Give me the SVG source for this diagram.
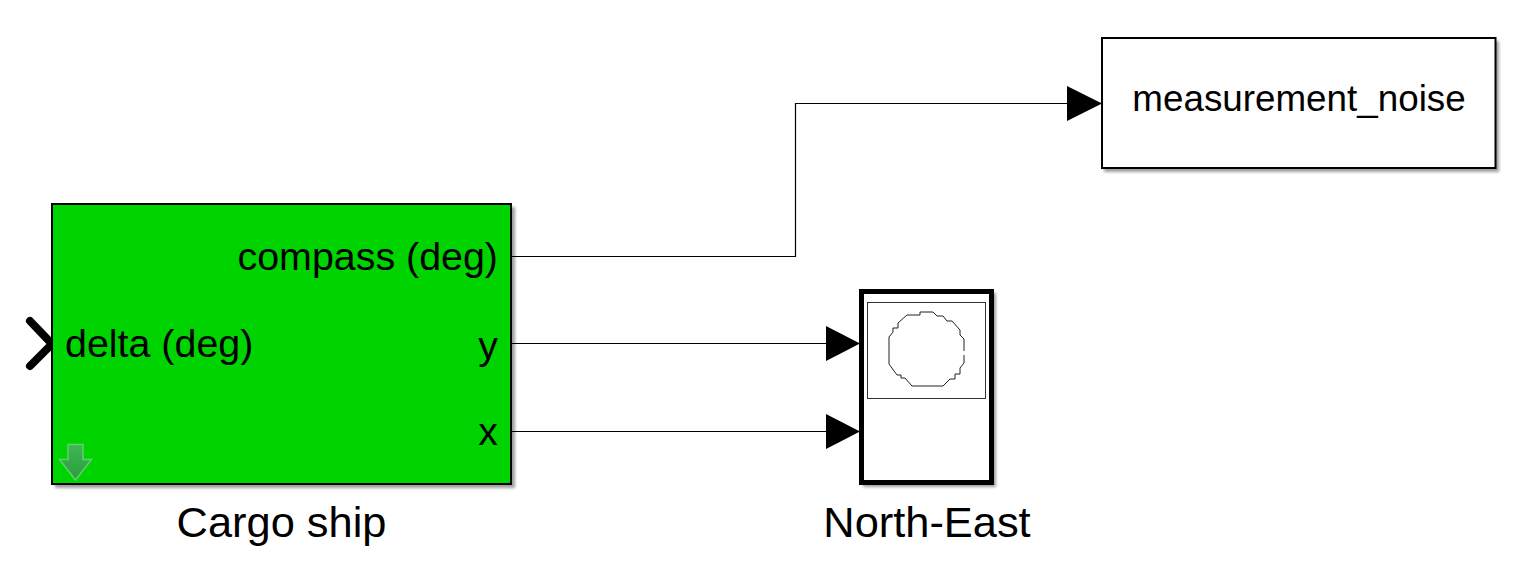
<svg xmlns="http://www.w3.org/2000/svg" width="1520" height="571" viewBox="0 0 1520 571">
<style>
text{font-family:"Liberation Sans",Arial,sans-serif;font-size:39.400px;fill:#000}
.e{text-anchor:end}.m{text-anchor:middle}
.l{font-size:43.400px}
.w{fill:none;stroke:#000;stroke-width:1.2}
.h{fill:#000;stroke:none}
.s{fill:#000;opacity:.38;filter:url(#b)}
</style>
<defs>
<filter id="b" x="-5%" y="-5%" width="110%" height="110%"><feGaussianBlur stdDeviation="1.5"/></filter>
<linearGradient id="g" x1="0" y1="0" x2="0" y2="1"><stop offset="0" stop-color="#3fb653"/><stop offset="1" stop-color="#2a9e3c"/></linearGradient>
</defs>
<rect width="1520" height="571" fill="#fff"/>
<g id="connectors">
<path class="w" d="M512 256.500H795.500V103.500H1068"/>
<path class="h" d="M1067 86L1102 103.500L1067 121Z"/>
<path class="w" d="M512 343.500H828"/>
<path class="h" d="M826 326L860 343.500L826 361Z"/>
<path class="w" d="M512 431.500H828"/>
<path class="h" d="M826 414L860 431.500L826 449Z"/>
</g>
<g id="cargo-ship">
<path d="M30 321L52 344L30 366" fill="none" stroke="#000" stroke-width="8" stroke-linecap="round"/>
<rect class="s" x="55" y="207" width="460" height="281"/>
<rect x="52" y="204" width="459" height="280" fill="#00d400" stroke="#000" stroke-width="2"/>
<path d="M68 444.500H83V459.500H91.500L75.500 480L59.500 459.500H68Z" fill="url(#g)" stroke="#5fcf70" stroke-width="1.500"/>
<text x="498" y="270" class="e">compass (deg)</text>
<text x="65" y="357">delta (deg)</text>
<text x="498" y="359" class="e">y</text>
<text x="498" y="445" class="e">x</text>
<text x="281.500" y="537" class="m l">Cargo ship</text>
</g>
<g id="north-east">
<rect class="s" x="863" y="293" width="133" height="194"/>
<rect x="861.500" y="291.500" width="130" height="191" fill="#fff" stroke="#000" stroke-width="5"/>
<rect x="867.500" y="302.500" width="118" height="96" fill="#fff" stroke="#333" stroke-width="1"/>
<path d="M964 351V339L960 335V330L952 321H947L943 316H937L933 312H920V315H907L898 323V328H893V332L889 337V364L897 375H901V378H905L912 386H943L950 379H955V374H960V368L964 363V355" fill="none" stroke="#222" stroke-width="1"/>
<text x="927" y="537" class="m l">North-East</text>
</g>
<g id="measurement-noise">
<rect class="s" x="1104" y="41" width="395" height="131"/>
<rect x="1102" y="38" width="393.500" height="130" fill="#fff" stroke="#000" stroke-width="2"/>
<text x="1299" y="111" class="m" style="font-size:36.800px">measurement_noise</text>
</g>
</svg>
